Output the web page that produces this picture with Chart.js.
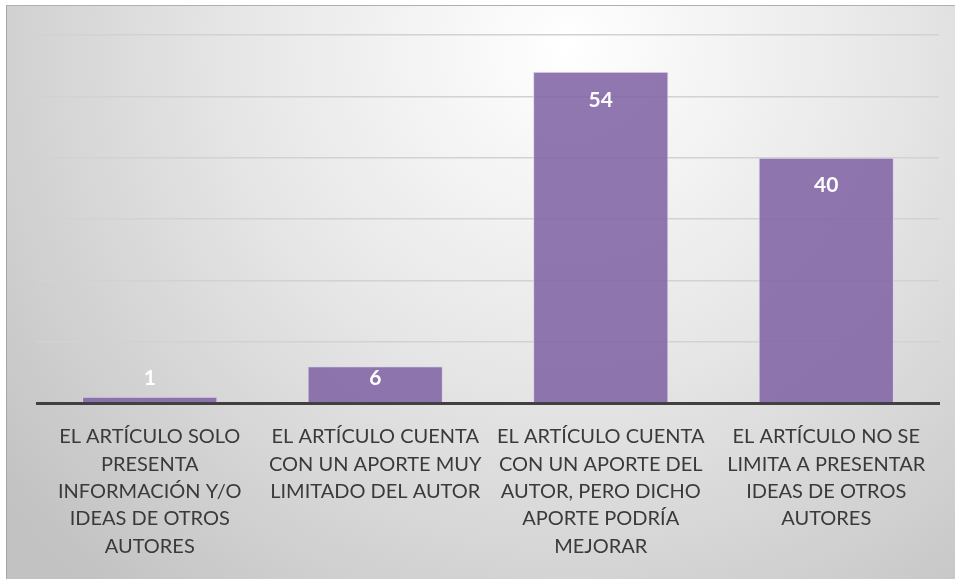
<!DOCTYPE html>
<html>
<head>
<meta charset="utf-8">
<script src="https://cdn.jsdelivr.net/npm/chart.js@4/dist/chart.umd.min.js"></script>
<style>
  html, body { margin: 0; padding: 0; background: #ffffff; }
  #wrap {
    position: absolute; left: 6px; top: 5px;
    width: 949px; height: 574px;
    border-left: 1px solid #a6a6a6; border-top: 1px solid #b0b0b0;
  }
  canvas { display: block; }
</style>
</head>
<body>
<div id="wrap"><canvas id="grafico" width="948" height="573"></canvas></div>
<script>
// categorias del eje X (una línea por renglón)
const categorias = [
  ['EL ARTÍCULO SOLO', 'PRESENTA', 'INFORMACIÓN Y/O', 'IDEAS DE OTROS', 'AUTORES'],
  ['EL ARTÍCULO CUENTA', 'CON UN APORTE MUY', 'LIMITADO DEL AUTOR'],
  ['EL ARTÍCULO CUENTA', 'CON UN APORTE DEL', 'AUTOR, PERO DICHO', 'APORTE PODRÍA', 'MEJORAR'],
  ['EL ARTÍCULO NO SE', 'LIMITA A PRESENTAR', 'IDEAS DE OTROS', 'AUTORES']
];
const valores = [1, 6, 54, 40];
const ejeY = { min: 0, max: 60, paso: 10 };

// fondo degradado radial tipo Excel
const fondo = {
  id: 'fondo',
  beforeDraw(chart) {
    const { ctx, width, height } = chart;
    const g = ctx.createRadialGradient(560, 40, 0, 560, 40, 720);
    g.addColorStop(0, '#ffffff');
    g.addColorStop(0.45, '#e7e7e7');
    g.addColorStop(1, '#c2c2c2');
    ctx.save();
    ctx.fillStyle = g;
    ctx.fillRect(0, 0, width, height);
    ctx.restore();
  }
};

// etiquetas de valor dentro de cada barra
const etiquetas = {
  id: 'etiquetas',
  afterDatasetsDraw(chart) {
    const { ctx } = chart;
    const meta = chart.getDatasetMeta(0);
    const base = chart.scales.y.getPixelForValue(0);
    ctx.save();
    ctx.fillStyle = '#ffffff';
    ctx.font = 'bold 21px Lato, "Open Sans", sans-serif';
    ctx.textAlign = 'center';
    ctx.textBaseline = 'middle';
    meta.data.forEach((bar, i) => {
      const y = Math.min(bar.y + 28, base - 25);
      ctx.fillText(String(valores[i]), bar.x, y);
    });
    ctx.restore();
  }
};

new Chart(document.getElementById('grafico'), {
  type: 'bar',
  data: {
    labels: categorias,
    datasets: [{
      data: valores,
      backgroundColor: 'rgba(130, 100, 165, 0.88)',
      borderColor: 'rgba(220, 210, 235, 0.9)',
      borderWidth: 1,
      borderSkipped: 'bottom',
      barPercentage: 0.6,
      categoryPercentage: 1
    }]
  },
  options: {
    responsive: false,
    animation: false,
    layout: { padding: { left: 30, right: 16, top: 29, bottom: 0 } },
    plugins: {
      legend: { display: false },
      tooltip: { enabled: false }
    },
    scales: {
      x: {
        grid: { display: false },
        border: { display: true, color: '#404040', width: 3 },
        ticks: {
          color: '#3a3a3a',
          font: { family: 'Lato, "Open Sans", sans-serif', size: 20, lineHeight: 1.37 },
          padding: 12,
          maxRotation: 0,
          autoSkip: false
        },
        afterFit(scale) { scale.height = 176; }
      },
      y: {
        min: ejeY.min,
        max: ejeY.max,
        ticks: { display: false, stepSize: ejeY.paso },
        border: { display: false },
        grid: {
          color: ctx => ctx.tick.value === 0 ? 'rgba(0,0,0,0)' : '#d2d2d2',
          lineWidth: 1.5,
          drawTicks: false
        },
        afterFit(scale) { scale.width = 0; }
      }
    }
  },
  plugins: [fondo, etiquetas]
});
</script>
</body>
</html>
